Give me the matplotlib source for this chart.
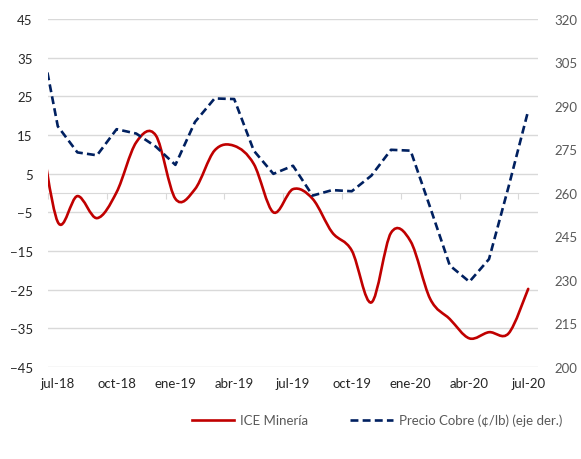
import numpy as np
import matplotlib
matplotlib.use('Agg')
import matplotlib.pyplot as plt
from matplotlib.path import Path
from matplotlib.patches import PathPatch
from matplotlib.lines import Line2D

plt.rcParams['font.family'] = ['Lato', 'DejaVu Sans']

# monthly data, jun-18 (clipped at the left edge) .. jul-20
meses = ['jun-18', 'jul-18', 'ago-18', 'sep-18', 'oct-18', 'nov-18', 'dic-18',
         'ene-19', 'feb-19', 'mar-19', 'abr-19', 'may-19', 'jun-19', 'jul-19',
         'ago-19', 'sep-19', 'oct-19', 'nov-19', 'dic-19', 'ene-20', 'feb-20',
         'mar-20', 'abr-20', 'may-20', 'jun-20', 'jul-20']
ice_mineria = [20.0, -7.5, -0.8, -6.5, 0.2, 13.1, 14.9, -1.5, 1.0, 11.0, 12.2,
               7.5, -5.0, 1.0, -1.5, -10.2, -14.9, -28.3, -10.3, -12.5, -27.4,
               -32.6, -37.6, -36.0, -36.3, -24.8]
precio_cobre = [318, 283, 274, 273, 282, 280.5, 276, 269.7, 284.5, 292.6, 292.4,
                274.6, 266.6, 269.4, 259.1, 261, 260.6, 266, 274.9, 274.6, 255,
                235, 229.4, 237.2, 262.2, 288.4]
etiquetas = ['jul-18', 'oct-18', 'ene-19', 'abr-19', 'jul-19', 'oct-19',
             'ene-20', 'abr-20', 'jul-20']

ROJO = '#C00000'
AZUL = '#002060'
GRIS = '#d9d9d9'


def suavizar(xs, ys):
    # excel-like smoothed line as cubic bezier path
    pts = np.column_stack([xs, ys]).astype(float)
    n = len(pts)
    verts = [pts[0]]
    codes = [Path.MOVETO]
    for i in range(n - 1):
        p0 = pts[max(i - 1, 0)]
        p1 = pts[i]
        p2 = pts[i + 1]
        p3 = pts[min(i + 2, n - 1)]
        verts += [p1 + (p2 - p0) / 6, p2 - (p3 - p1) / 6, p2]
        codes += [Path.CURVE4] * 3
    return Path(verts, codes)


x = np.arange(len(meses)) - 1

fig = plt.figure(figsize=(5.81, 4.60), dpi=100)
ax = fig.add_axes([48 / 581, 1 - 368 / 460, 490 / 581, 348 / 460])
ax2 = ax.twinx()

ax.set_xlim(-0.5, 24.5)
ax.set_ylim(-45, 45)
ax.set_yticks(np.arange(-45, 46, 10))
ax2.set_ylim(200, 320)
ax2.set_yticks(np.arange(200, 321, 15))

ax.grid(axis='y', color=GRIS, lw=1)
ax.set_axisbelow(True)

for s in ['top', 'left', 'right']:
    ax.spines[s].set_visible(False)
for s in ax2.spines:
    ax2.spines[s].set_visible(False)
ax.spines['bottom'].set_position(('data', 0))
ax.spines['bottom'].set_color(GRIS)

ax.set_xticks(np.arange(-0.5, 25, 3))
ax.tick_params(axis='x', direction='out', length=4, color=GRIS, labelbottom=False)
ax.tick_params(axis='y', length=0, labelsize=9.5, labelcolor='#262626', pad=11)
ax2.tick_params(axis='y', length=0, labelsize=9.5, labelcolor='#595959', pad=11.5)

sec = ax.secondary_xaxis(0)
sec.set_xticks(np.arange(0, 25, 3), etiquetas)
sec.tick_params(length=0, pad=7, labelsize=9.5, labelcolor='#262626')
sec.spines['bottom'].set_visible(False)

ax.add_patch(PathPatch(suavizar(x, ice_mineria), fill=False, edgecolor=ROJO,
                       lw=1.9, capstyle='round', zorder=3))
ax2.plot(x, precio_cobre, color=AZUL, lw=1.9, dashes=(3, 1.6))

handles = [Line2D([], [], color=ROJO, lw=1.9),
           Line2D([], [], color=AZUL, lw=1.9, dashes=(3, 1.6))]
fig.legend(handles, ['ICE Minería', 'Precio Cobre (¢/lb) (eje der.)'],
           loc='center', bbox_to_anchor=(377 / 581, 1 - 421 / 460), ncol=2,
           frameon=False, fontsize=9.5, handlelength=3.2, columnspacing=3.2,
           handletextpad=0.45, labelcolor='#595959')

fig.savefig('out.png', dpi=100)
